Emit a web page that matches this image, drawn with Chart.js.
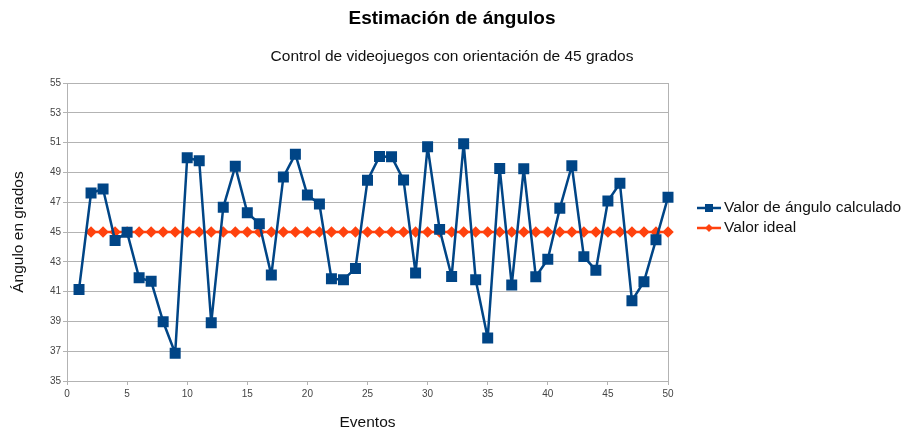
<!DOCTYPE html>
<html>
<head>
<meta charset="utf-8">
<script src="https://cdn.jsdelivr.net/npm/chart.js@4/dist/chart.umd.min.js"></script>
<style>
html,body{margin:0;padding:0;background:#fff;}
#wrap{position:relative;width:904px;height:437px;}
</style>
</head>
<body>
<div id="wrap"><canvas id="c" width="904" height="437"></canvas></div>
<script>
const events = [1,2,3,4,5,6,7,8,9,10,11,12,13,14,15,16,17,18,19,20,21,22,23,24,25,26,27,28,29,30,31,32,33,34,35,36,37,38,39,40,41,42,43,44,45,46,47,48,49,50];
const calculated = [41.15,47.62,47.89,44.44,44.98,41.93,41.69,38.98,36.86,49.99,49.79,38.91,46.66,49.41,46.30,45.56,42.11,48.69,50.23,47.48,46.88,41.87,41.80,42.56,48.47,50.08,50.06,48.49,42.25,50.73,45.18,42.02,50.93,41.80,37.89,49.27,41.44,49.25,42.00,43.17,46.59,49.45,43.35,42.43,47.08,48.27,40.39,41.67,44.48,47.33];
const idealEvents = [2,3,4,5,6,7,8,9,10,11,12,13,14,15,16,17,18,19,20,21,22,23,24,25,26,27,28,29,30,31,32,33,34,35,36,37,38,39,40,41,42,43,44,45,46,47,48,49,50];
const idealValues = [45,45,45,45,45,45,45,45,45,45,45,45,45,45,45,45,45,45,45,45,45,45,45,45,45,45,45,45,45,45,45,45,45,45,45,45,45,45,45,45,45,45,45,45,45,45,45,45,45];
const seriesNames = ['Valor de ángulo calculado', 'Valor ideal'];
const titleText = 'Estimación de ángulos';
const subtitleText = 'Control de videojuegos con orientación de 45 grados';
const xTitle = 'Eventos';
const yTitle = 'Ángulo en grados';

const FONT = "'Liberation Sans', Arial, sans-serif";
const BLUE = '#004586';
const RED = '#ff420e';

const frame = {
  id: 'frame',
  beforeDatasetsDraw(chart) {
    const {ctx, chartArea: a} = chart;
    ctx.save();
    ctx.strokeStyle = '#b3b3b3';
    ctx.lineWidth = 1;
    ctx.strokeRect(Math.round(a.left) + 0.5, Math.round(a.top) + 0.5, Math.round(a.right - a.left), Math.round(a.bottom - a.top));
    ctx.restore();
  }
};

const sideLegend = {
  id: 'sideLegend',
  afterDraw(chart) {
    const {ctx} = chart;
    const x0 = 697, rowY = [208, 228];
    ctx.save();
    chart.data.datasets.forEach((ds, i) => {
      const y = rowY[i];
      ctx.strokeStyle = ds.borderColor;
      ctx.lineWidth = 2.5;
      ctx.beginPath(); ctx.moveTo(x0, y); ctx.lineTo(x0 + 24, y); ctx.stroke();
      ctx.fillStyle = ds.backgroundColor;
      if (ds.pointStyle === 'rect') {
        ctx.fillRect(x0 + 8, y - 4, 8, 8);
      } else {
        ctx.beginPath();
        ctx.moveTo(x0 + 12, y - 4); ctx.lineTo(x0 + 16, y); ctx.lineTo(x0 + 12, y + 4); ctx.lineTo(x0 + 8, y);
        ctx.closePath(); ctx.fill();
      }
      ctx.fillStyle = '#111';
      ctx.font = '15.5px ' + FONT;
      ctx.textAlign = 'left';
      ctx.textBaseline = 'middle';
      ctx.fillText(ds.label, x0 + 27, y);
    });
    ctx.restore();
  }
};

new Chart(document.getElementById('c'), {
  type: 'line',
  data: {
    datasets: [
      {
        label: seriesNames[0],
        data: events.map((e, i) => ({x: e, y: calculated[i]})),
        borderColor: BLUE,
        backgroundColor: BLUE,
        borderWidth: 2.5,
        borderJoinStyle: 'round',
        pointStyle: 'rect',
        pointRadius: 6,
        pointHoverRadius: 6,
        tension: 0,
        clip: false
      },
      {
        label: seriesNames[1],
        data: idealEvents.map((e, i) => ({x: e, y: idealValues[i]})),
        borderColor: RED,
        backgroundColor: RED,
        borderWidth: 2.5,
        borderJoinStyle: 'round',
        pointStyle: 'rectRot',
        pointRadius: 4,
        pointHoverRadius: 4,
        tension: 0,
        clip: false
      }
    ]
  },
  options: {
    responsive: false,
    animation: false,
    layout: {padding: 0},
    plugins: {
      legend: {display: false},
      tooltip: {enabled: false},
      title: {
        display: true,
        text: titleText,
        color: '#000',
        font: {family: FONT, size: 19, weight: 'bold'},
        padding: {top: 7, bottom: 16}
      },
      subtitle: {
        display: true,
        text: subtitleText,
        color: '#111',
        font: {family: FONT, size: 15.5},
        padding: {top: 2, bottom: 16.7}
      }
    },
    scales: {
      x: {
        type: 'linear',
        min: 0, max: 50,
        afterFit(s) { s.height = 56; },
        ticks: {stepSize: 5, color: '#444', font: {family: FONT, size: 10}, padding: 3, maxRotation: 0},
        grid: {display: true, drawOnChartArea: false, tickLength: 4, color: '#b3b3b3'},
        border: {color: '#b3b3b3'},
        title: {display: true, text: xTitle, color: '#111', font: {family: FONT, size: 15.5}, padding: {top: 4, bottom: 4.7}}
      },
      y: {
        min: 35, max: 55,
        afterFit(s) { s.width = 67; },
        ticks: {stepSize: 2, color: '#444', font: {family: FONT, size: 10}, padding: 2},
        grid: {color: '#b3b3b3', tickLength: 4},
        border: {color: '#b3b3b3'},
        title: {display: true, text: yTitle, color: '#111', font: {family: FONT, size: 15.5}, padding: {top: 9, bottom: 4}}
      },
      side: {
        type: 'linear',
        position: 'right',
        display: true,
        afterFit(s) { s.width = 236; },
        ticks: {display: false},
        grid: {display: false},
        border: {display: false}
      }
    }
  },
  plugins: [frame, sideLegend]
});
</script>
</body>
</html>
